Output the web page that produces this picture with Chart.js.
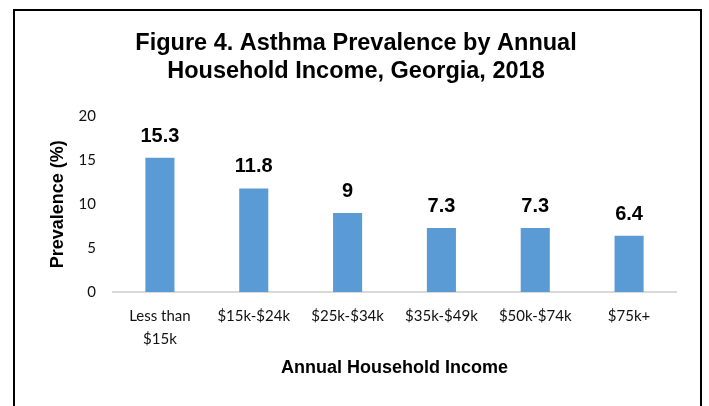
<!DOCTYPE html>
<html>
<head>
<meta charset="utf-8">
<script src="https://cdn.jsdelivr.net/npm/chart.js@4.4.1/dist/chart.umd.min.js"></script>
<style>
  html, body { margin: 0; padding: 0; background: #fff; }
  #wrap { position: relative; width: 709px; height: 406px; overflow: hidden; }
  #frame { position: absolute; left: 13px; top: 9px; width: 689px; height: 420px;
           border: 2px solid #000; box-sizing: border-box; }
  canvas { position: absolute; left: 0; top: 0; }
</style>
</head>
<body>
<div id="wrap">
  <div id="frame"></div>
  <canvas id="c" width="709" height="406"></canvas>
</div>
<script>
const categories = [["Less than", "$15k"], "$15k-$24k", "$25k-$34k", "$35k-$49k", "$50k-$74k", "$75k+"];
const prevalence = [15.3, 11.8, 9, 7.3, 7.3, 6.4];
const yTicks = [0, 5, 10, 15, 20];

const tickFont = { family: "Lato, 'Open Sans', sans-serif", size: 15, lineHeight: 1.5 };
const boldFont = (s) => ({ family: "'Liberation Sans', Arial, sans-serif", size: s, weight: "bold", lineHeight: 1.2 });

// Writes each bar's value above it
const valueLabels = {
  id: "valueLabels",
  afterDatasetsDraw(chart) {
    const ctx = chart.ctx;
    const meta = chart.getDatasetMeta(0);
    ctx.save();
    ctx.font = "bold 20px 'Liberation Sans', Arial, sans-serif";
    ctx.fillStyle = "#000";
    ctx.textAlign = "center";
    ctx.textBaseline = "alphabetic";
    meta.data.forEach((bar, i) => {
      ctx.fillText(String(prevalence[i]), bar.x, bar.y - 16);
    });
    ctx.restore();
  }
};

new Chart(document.getElementById("c"), {
  type: "bar",
  data: {
    labels: categories,
    datasets: [{
      data: prevalence,
      backgroundColor: "#5B9BD5",
      borderWidth: 0,
      categoryPercentage: 1,
      barPercentage: 0.31
    }]
  },
  options: {
    responsive: false,
    animation: false,
    layout: { padding: { left: 36, right: 33, top: 10, bottom: 0 } },
    plugins: {
      legend: { display: false },
      tooltip: { enabled: false },
      title: {
        display: true,
        text: ["Figure 4. Asthma Prevalence by Annual", "Household Income, Georgia, 2018"],
        font: boldFont(23.5),
        color: "#000",
        padding: { top: 19, bottom: 31 }
      }
    },
    scales: {
      y: {
        min: 0, max: 20,
        afterBuildTicks(axis) { axis.ticks = yTicks.map(v => ({ value: v })); },
        afterFit(axis) { axis.width = 77; },
        grid: { display: false, drawTicks: false },
        border: { display: false },
        ticks: { font: { family: tickFont.family, size: 15 }, color: "#111", padding: 17 },
        title: { display: true, text: "Prevalence (%)", font: boldFont(18), color: "#000", padding: { top: 11 } }
      },
      x: {
        afterFit(axis) { axis.height = 114; },
        grid: { display: false, drawTicks: false },
        border: { display: true, color: "#D9D9D9", width: 2 },
        ticks: { font: tickFont, color: "#111", padding: 13, maxRotation: 0, autoSkip: false },
        title: { display: true, text: "Annual Household Income", font: boldFont(18), color: "#000", padding: { bottom: 27 } }
      }
    }
  },
  plugins: [valueLabels]
});
</script>
</body>
</html>
